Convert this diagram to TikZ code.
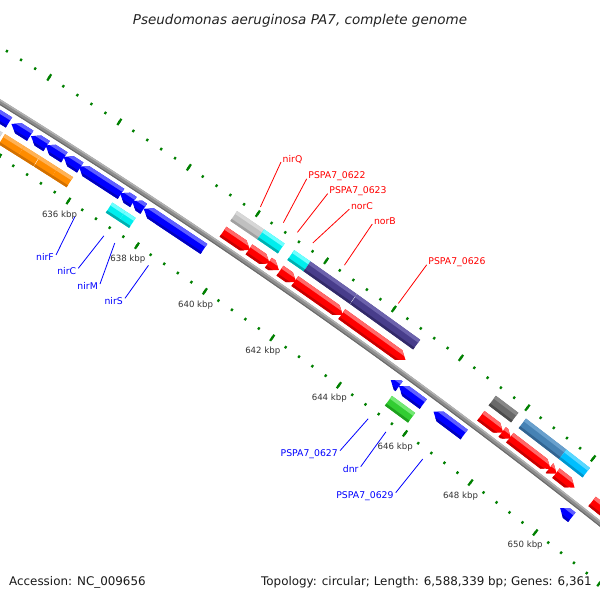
\documentclass[tikz,border=0pt]{standalone}
\usepackage{fontspec}
\setmainfont{DejaVu Sans}

\definecolor{tickG}{RGB}{0,128,0}
\definecolor{labred}{RGB}{255,0,0}
\definecolor{labblue}{RGB}{0,0,255}
\definecolor{tklab}{RGB}{50,50,50}
\definecolor{bbM}{RGB}{140,140,140}\definecolor{bbL}{RGB}{178,178,178}\definecolor{bbD}{RGB}{105,105,105}
\definecolor{redM}{RGB}{255,0,0}\definecolor{redL}{RGB}{255,105,105}\definecolor{redD}{RGB}{200,0,0}
\definecolor{bluM}{RGB}{0,0,255}\definecolor{bluL}{RGB}{95,95,255}\definecolor{bluD}{RGB}{0,0,190}
\definecolor{oraM}{RGB}{255,140,0}\definecolor{oraL}{RGB}{255,178,85}\definecolor{oraD}{RGB}{210,112,0}
\definecolor{cyaM}{RGB}{0,238,238}\definecolor{cyaL}{RGB}{110,255,255}\definecolor{cyaD}{RGB}{0,175,175}
\definecolor{lgrM}{RGB}{192,192,192}\definecolor{lgrL}{RGB}{215,215,215}\definecolor{lgrD}{RGB}{160,160,160}
\definecolor{purM}{RGB}{72,61,139}\definecolor{purL}{RGB}{108,98,172}\definecolor{purD}{RGB}{50,42,105}
\definecolor{dgrM}{RGB}{105,105,105}\definecolor{dgrL}{RGB}{135,135,135}\definecolor{dgrD}{RGB}{75,75,75}
\definecolor{steM}{RGB}{70,130,180}\definecolor{steL}{RGB}{105,160,205}\definecolor{steD}{RGB}{50,100,145}
\definecolor{skyM}{RGB}{0,191,255}\definecolor{skyL}{RGB}{90,215,255}\definecolor{skyD}{RGB}{0,150,205}
\definecolor{greM}{RGB}{50,205,50}\definecolor{greL}{RGB}{115,232,115}\definecolor{greD}{RGB}{30,160,30}

\makeatletter
\tikzset{gencs/.cd, k/.store in=\gencs@k, r/.store in=\gencs@r}
\tikzdeclarecoordinatesystem{gen}{%
  \tikzset{gencs/.cd,k=643,r=6347,#1}%
  \edef\gencs@X{\fpeval{-3342+(\gencs@r)*cosd(54.62-0.3721*((\gencs@k)-643))}}%
  \edef\gencs@Y{\fpeval{-5498+(\gencs@r)*sind(54.62-0.3721*((\gencs@k)-643))}}%
  \pgfqpoint{\gencs@X pt}{\gencs@Y pt}}
\makeatother

\newcommand\lblfont{\fontsize{9.3}{11}\selectfont}
\newcommand\tklfont{\fontsize{8.6}{10}\selectfont}

% strips of a 3D-looking bar, clipped by caller
\newcommand\gstrips[5]{%
  \fill[#5M] (gen cs:k=#1-0.3,r=#3-2) -- (gen cs:k=#1-0.3,r=#4+2) -- (gen cs:k=#2+0.3,r=#4+2) -- (gen cs:k=#2+0.3,r=#3-2) -- cycle;
  \fill[#5L] (gen cs:k=#1-0.3,r=#4-3.5) -- (gen cs:k=#1-0.3,r=#4+2) -- (gen cs:k=#2+0.3,r=#4+2) -- (gen cs:k=#2+0.3,r=#4-3.5) -- cycle;
  \fill[#5D] (gen cs:k=#1-0.3,r=#3-2) -- (gen cs:k=#1-0.3,r=#3+2.5) -- (gen cs:k=#2+0.3,r=#3+2.5) -- (gen cs:k=#2+0.3,r=#3-2) -- cycle;}

% forward gene: k1 k2 ri ro colour
\newcommand\fgene[5]{%
  \edef\gHd{\fpeval{(#2)-min(0.2,(#2)-(#1))}}%
  \edef\gMd{\fpeval{((#3)+(#4))/2}}%
  \begin{scope}
    \clip (gen cs:k=#1,r=#3) -- (gen cs:k=#1,r=#4) -- (gen cs:k=\gHd,r=#4) -- (gen cs:k=#2,r=\gMd) -- (gen cs:k=\gHd,r=#3) -- cycle;
    \gstrips{#1}{#2}{#3}{#4}{#5}
  \end{scope}}
% reverse gene
\newcommand\rgene[5]{%
  \edef\gHd{\fpeval{(#1)+min(0.2,(#2)-(#1))}}%
  \edef\gMd{\fpeval{((#3)+(#4))/2}}%
  \begin{scope}
    \clip (gen cs:k=#2,r=#3) -- (gen cs:k=#2,r=#4) -- (gen cs:k=\gHd,r=#4) -- (gen cs:k=#1,r=\gMd) -- (gen cs:k=\gHd,r=#3) -- cycle;
    \gstrips{#1}{#2}{#3}{#4}{#5}
  \end{scope}}
% plain box
\newcommand\cbox[5]{%
  \begin{scope}
    \clip (gen cs:k=#1,r=#3) -- (gen cs:k=#1,r=#4) -- (gen cs:k=#2,r=#4) -- (gen cs:k=#2,r=#3) -- cycle;
    \gstrips{#1}{#2}{#3}{#4}{#5}
  \end{scope}}
\newcommand\bbpath[1]{(gen cs:k=629,r=#1) \foreach \kk in {629.5,630,...,657} {-- (gen cs:k=\kk,r=#1)}}

\begin{document}
\begin{tikzpicture}[x=1pt,y=1pt,
  tickminor/.style={tickG,line width=2.2pt},
  tickmajor/.style={tickG,line width=2.2pt},
  rlab/.style={anchor=base west,inner xsep=1.5pt,inner ysep=0pt,text=labred,font=\lblfont},
  blab/.style={anchor=north east,inner xsep=2pt,inner ysep=0pt,text=labblue,font=\lblfont},
  rline/.style={labred,line width=0.8pt},
  bline/.style={labblue,line width=0.8pt},
  ticklab/.style={text=tklab,font=\tklfont,inner sep=0pt}]
\useasboundingbox (0,-600) rectangle (600,0);
\fill[white] (0,-600) rectangle (600,0);
\begin{scope}
\clip (0,-600) rectangle (600,0);

% tick tracks
\foreach \n in {1575,...,1640}{
  \draw[tickminor] (gen cs:k=\n*0.4,r=6392.7) -- (gen cs:k=\n*0.4,r=6395.3);
  \draw[tickminor] (gen cs:k=\n*0.4,r=6298.7) -- (gen cs:k=\n*0.4,r=6301.3);
}
\foreach \m in {630,632,...,656}{
  \draw[tickmajor] (gen cs:k=\m,r=6390.3) -- (gen cs:k=\m,r=6397.7);
  \draw[tickmajor] (gen cs:k=\m,r=6296.3) -- (gen cs:k=\m,r=6303.7);
}

% backbone
\draw[bbM,line width=5pt] \bbpath{6347};
\draw[bbL,line width=1.5pt] \bbpath{6348.8};
\draw[bbD,line width=1pt] \bbpath{6345};

% forward genes (outer slot 1)
\fgene{639.55}{640.34}{6353.5}{6365.5}{red}
\fgene{640.31}{640.92}{6353.5}{6365.5}{red}
\fgene{640.88}{641.19}{6353.5}{6365.5}{red}
\fgene{641.22}{641.70}{6353.5}{6365.5}{red}
\fgene{641.66}{643.08}{6353.5}{6365.5}{red}
\fgene{643.05}{644.95}{6353.5}{6365.5}{red}
\fgene{647.22}{647.90}{6353.5}{6365.5}{red}
\fgene{647.87}{648.14}{6353.5}{6365.5}{red}
\fgene{648.10}{649.34}{6353.5}{6365.5}{red}
\fgene{649.31}{649.53}{6353.5}{6365.5}{red}
\fgene{649.51}{650.08}{6353.5}{6365.5}{red}
\fgene{650.62}{652.50}{6353.5}{6365.5}{red}

% outer slot 2 boxes
\cbox{639.55}{640.34}{6372.5}{6384.5}{lgr}
\cbox{640.34}{640.94}{6372.5}{6384.5}{cya}
\cbox{641.22}{641.70}{6372.5}{6384.5}{cya}
\cbox{641.70}{643.06}{6372.5}{6384.5}{pur}
\cbox{643.075}{644.95}{6372.5}{6384.5}{pur}
\cbox{647.22}{647.90}{6372.5}{6384.5}{dgr}
\cbox{648.13}{649.36}{6372.5}{6384.5}{ste}
\cbox{649.36}{650.08}{6372.5}{6384.5}{sky}

% reverse genes (inner slot 1)
\rgene{632.70}{633.75}{6328.5}{6340.5}{blu}
\rgene{633.82}{634.36}{6328.5}{6340.5}{blu}
\rgene{634.38}{634.83}{6328.5}{6340.5}{blu}
\rgene{634.80}{635.34}{6328.5}{6340.5}{blu}
\rgene{635.32}{635.80}{6328.5}{6340.5}{blu}
\rgene{635.76}{636.98}{6328.5}{6340.5}{blu}
\rgene{636.95}{637.34}{6328.5}{6340.5}{blu}
\rgene{637.30}{637.64}{6328.5}{6340.5}{blu}
\rgene{637.64}{639.40}{6328.5}{6340.5}{blu}
\rgene{644.95}{645.20}{6328.5}{6340.5}{blu}
\rgene{645.20}{645.93}{6328.5}{6340.5}{blu}
\rgene{646.24}{647.17}{6328.5}{6340.5}{blu}
\rgene{650.11}{650.47}{6328.5}{6340.5}{blu}

% inner slot 2 boxes
\cbox{632.70}{633.75}{6310.5}{6322.5}{lgr}
\cbox{633.82}{634.37}{6310.5}{6322.5}{ora}
\cbox{634.37}{634.82}{6310.5}{6322.5}{ora}
\cbox{634.835}{635.34}{6310.5}{6322.5}{ora}
\cbox{635.34}{635.78}{6310.5}{6322.5}{ora}
\cbox{636.92}{637.30}{6310.5}{6322.5}{cya}
\cbox{637.30}{637.60}{6310.5}{6322.5}{cya}
\cbox{645.20}{645.90}{6310.5}{6322.5}{gre}

% tick labels
\foreach \m in {636,638,...,650}{
  \node[ticklab] (tk\m) at (gen cs:k=\m,r=6283.5) {\m\ kbp};
}

% outer labels
\coordinate (g-nirQ) at (gen cs:k=639.96,r=6401);
\coordinate (g-0622) at (gen cs:k=640.63,r=6401);
\coordinate (g-0623) at (gen cs:k=641.04,r=6401);
\coordinate (g-norC) at (gen cs:k=641.49,r=6401);
\coordinate (g-norB) at (gen cs:k=642.42,r=6401);
\coordinate (g-0626) at (gen cs:k=644.01,r=6401);
\node[rlab] (nirQ) at (281,-162) {nirQ};
\node[rlab] (l0622) at (306.7,-178.8) {PSPA7\_0622};
\node[rlab] (l0623) at (327.7,-193.6) {PSPA7\_0623};
\node[rlab] (norC) at (349.3,-209.2) {norC};
\node[rlab] (norB) at (372.3,-224) {norB};
\node[rlab] (l0626) at (426.7,-264.8) {PSPA7\_0626};
\draw[rline] (nirQ.base west) -- (g-nirQ);
\draw[rline] (l0622.base west) -- (g-0622);
\draw[rline] (l0623.base west) -- (g-0623);
\draw[rline] (norC.base west) -- (g-norC);
\draw[rline] (norB.base west) -- (g-norB);
\draw[rline] (l0626.base west) -- (g-0626);

% inner labels
\coordinate (g-nirF) at (gen cs:k=636.34,r=6290);
\coordinate (g-nirC) at (gen cs:k=637.19,r=6290);
\coordinate (g-nirM) at (gen cs:k=637.51,r=6290);
\coordinate (g-nirS) at (gen cs:k=638.50,r=6290);
\coordinate (g-0627) at (gen cs:k=645.06,r=6290);
\coordinate (g-dnr) at (gen cs:k=645.60,r=6290);
\coordinate (g-0629) at (gen cs:k=646.72,r=6290);
\node[blab] (nirF) at (56,-253.5) {nirF};
\node[blab] (nirC) at (78.3,-266.8) {nirC};
\node[blab] (nirM) at (100,-282.5) {nirM};
\node[blab] (nirS) at (125,-296.8) {nirS};
\node[blab] (l0627) at (340,-449.2) {PSPA7\_0627};
\node[blab] (dnr) at (360.7,-465.2) {dnr};
\node[blab] (l0629) at (395.7,-491.2) {PSPA7\_0629};
\draw[bline] ([yshift=-1.5pt]nirF.north east) -- (g-nirF);
\draw[bline] ([yshift=-1.5pt]nirC.north east) -- (g-nirC);
\draw[bline] ([yshift=-1.5pt]nirM.north east) -- (g-nirM);
\draw[bline] ([yshift=-1.5pt]nirS.north east) -- (g-nirS);
\draw[bline] ([yshift=-1.5pt]l0627.north east) -- (g-0627);
\draw[bline] ([yshift=-1.5pt]dnr.north east) -- (g-dnr);
\draw[bline] ([yshift=-1.5pt]l0629.north east) -- (g-0629);

% title and footer
\node[anchor=base,inner sep=0pt,text={rgb,255:red,35;green,35;blue,35},font=\fontsize{13.5}{16}\selectfont\itshape] (title) at (300,-24.5) {Pseudomonas aeruginosa PA7, complete genome};
\node[anchor=base west,inner sep=0pt,text={rgb,255:red,25;green,25;blue,25},font=\fontsize{11.9}{14}\selectfont] (acc) at (9,-585.5) {Accession: NC\_009656};
\node[anchor=base east,inner sep=0pt,text={rgb,255:red,25;green,25;blue,25},font=\fontsize{11.9}{14}\selectfont] (topo) at (592,-585.5) {Topology: circular; Length: 6,588,339 bp; Genes: 6,361};
\end{scope}
\end{tikzpicture}
\end{document}
